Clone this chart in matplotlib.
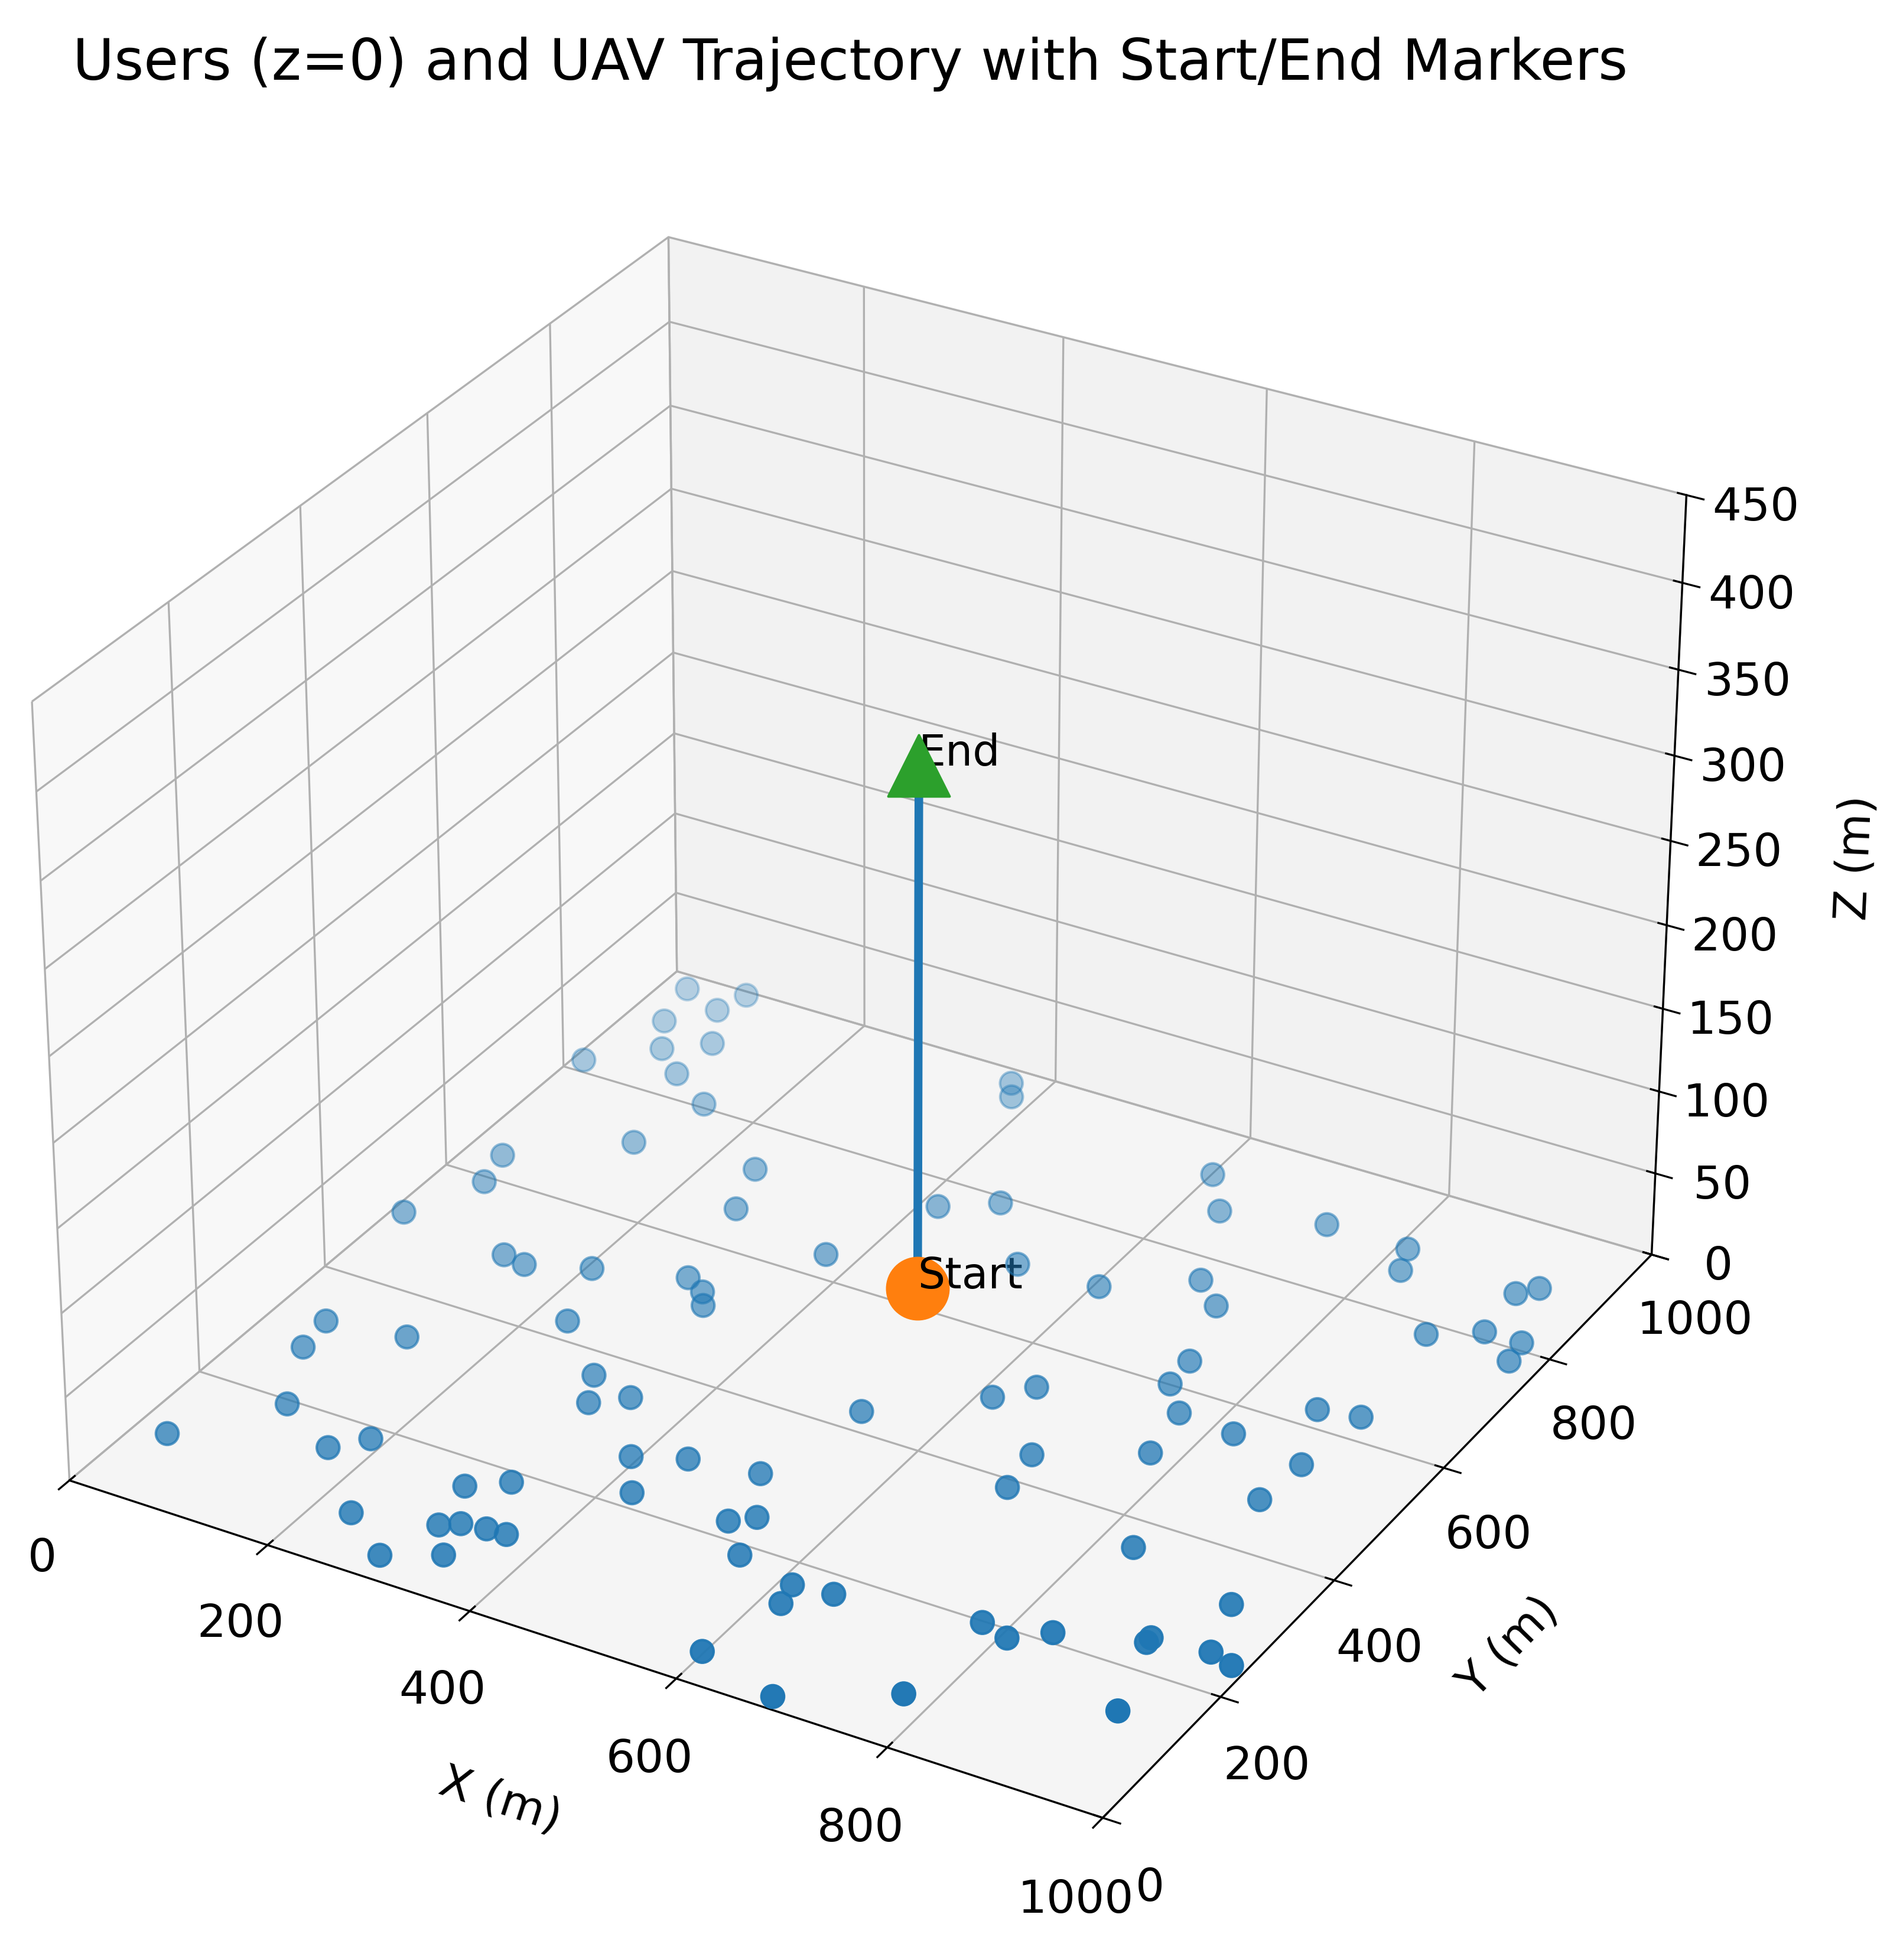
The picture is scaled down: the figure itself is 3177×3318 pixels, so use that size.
import numpy as np
import matplotlib
matplotlib.use("Agg")
import matplotlib.pyplot as plt

user_x = [25, 78, 69, 37, 96, 61, 96, 10, 145, 125, 243, 35, 45, 11, 263, 367, 379, 416, 461, 601, 636, 729, 810, 821, 371, 525, 605, 677, 709, 926, 940, 931, 889, 967, 971, 126, 150, 205, 286, 309, 321, 232, 50, 56, 125, 298, 317, 344, 94, 31, 162, 186, 527, 613, 638, 732, 735, 764, 820, 864, 902, 393, 437, 502, 687, 773, 893, 295, 326, 423, 694, 888, 234, 308, 323, 346, 365, 516, 534, 290, 336, 551, 831, 612, 618, 649, 943, 777, 806, 835, 909, 909, 962, 986, 598, 682, 773, 937]
user_y = [977, 994, 957, 916, 903, 872, 840, 819, 806, 717, 731, 639, 592, 512, 664, 977, 956, 757, 790, 927, 875, 902, 901, 866, 637, 707, 710, 764, 733, 882, 900, 812, 783, 812, 780, 495, 490, 514, 543, 529, 510, 429, 324, 278, 337, 365, 325, 350, 194, 103, 153, 183, 430, 506, 539, 642, 601, 564, 558, 628, 636, 270, 291, 302, 443, 496, 544, 160, 185, 222, 388, 478, 77, 98, 109, 113, 114, 225, 242, 34, 61, 185, 360, 168, 139, 173, 325, 198, 188, 214, 248, 240, 254, 245, 45, 17, 74, 140]
traj_x = [469, 469]
traj_y = [628, 628]
traj_z = [0, 313]

fig = plt.figure(figsize=(10.59, 11.06), dpi=300)
ax = fig.add_subplot(111, projection='3d')
ax.scatter(user_x, user_y, np.zeros(len(user_x)), s=85, color='#1f77b4')
ax.plot(traj_x, traj_y, traj_z, color='#1f77b4', lw=3.5)
ax.scatter([traj_x[0]], [traj_y[0]], [traj_z[0]], s=620, color='#ff7f0e', depthshade=False)
ax.scatter([traj_x[-1]], [traj_y[-1]], [traj_z[-1]], s=620, marker='^', color='#2ca02c', depthshade=False)
ax.text(traj_x[0], traj_y[0], traj_z[0], 'Start', fontsize=17.5)
ax.text(traj_x[-1], traj_y[-1], traj_z[-1], 'End', fontsize=17.5)
ax.set_xlim(0, 1000); ax.set_ylim(0, 1000); ax.set_zlim(0, 450)
ax.tick_params(labelsize=18.5, pad=9)
ax.set_xlabel('X (m)', fontsize=18.5, labelpad=24)
ax.set_ylabel('Y (m)', fontsize=18.5, labelpad=24)
ax.set_zlabel('Z (m)', fontsize=18.5, labelpad=26)
ax.set_title('Users (z=0) and UAV Trajectory with Start/End Markers', fontsize=23)
fig.subplots_adjust(left=-0.037, right=0.943, bottom=0.005, top=0.96)
fig.savefig('out.png')
